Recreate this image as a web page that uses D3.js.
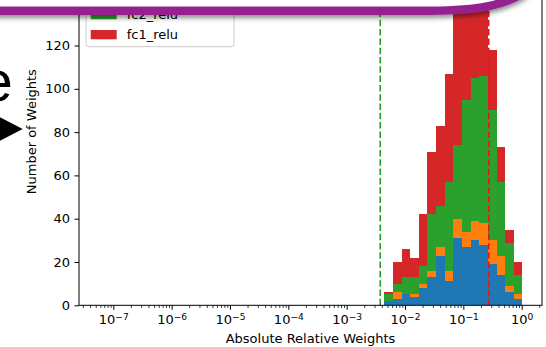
<!DOCTYPE html>
<html>
<head>
<meta charset="utf-8">
<script src="https://cdn.jsdelivr.net/npm/d3@7"></script>
<style>
  html, body { margin: 0; padding: 0; background: #fff; }
  svg { display: block; }
</style>
</head>
<body>
<svg id="chart" width="546" height="347"></svg>
<script>
// ---- data -------------------------------------------------------------
// Histogram bins: 16 log-spaced bins between these log10 bounds
const binLogMin = -2.355;
const binLogMax = 0.012;
const binCount = 16;

// Stacked counts per bin, bottom layer first
const layer4Counts = [2, 3, 5, 4, 8, 13, 23, 11, 31, 27, 30, 28, 19, 14, 6, 3];
const layer3Counts = [0, 3, 0, 1, 2, 3, 4, 5, 9, 7, 9, 10, 11, 9, 3, 2];
const fc2Counts    = [3, 4, 8, 8, 8, 26, 19, 41, 34, 61, 66, 68, 60, 34, 20, 9];
const fc1Counts    = [1, 10, 13, 9, 24, 29, 37, 50, 76, 73, 67, 49, 28, 16, 6, 6];

const seriesCounts = [layer4Counts, layer3Counts, fc2Counts, fc1Counts];
const seriesColors = ["#1f77b4", "#ff7f0e", "#2ca02c", "#d62728"];

// Legend rows that sit below the banner
const legendLabels = ["fc2_relu", "fc1_relu"];
const legendColors = ["#2ca02c", "#d62728"];

// Threshold markers
const lowThreshold = 0.00376;
const highThreshold = 0.272;

// Axis ticks
const xMajorExponents = [-7, -6, -5, -4, -3, -2, -1, 0];
const yTicks = [0, 20, 40, 60, 80, 100, 120];
const xLabel = "Absolute Relative Weights";
const yLabel = "Number of Weights";

// ---- layout -----------------------------------------------------------
const FONT = "DejaVu Sans, Verdana, sans-serif";
const plot = { left: 79, right: 542, bottom: 305.3, top: -42 };

const svg = d3.select("#chart");

const x = d3.scaleLog()
  .domain([Math.pow(10, -7.588), Math.pow(10, 0.348)])
  .range([plot.left, plot.right]);

const y = d3.scaleLinear()
  .domain([0, 120])
  .range([plot.bottom, 45.5]);

// bin edges
const edges = d3.range(binCount + 1).map(i =>
  Math.pow(10, binLogMin + (binLogMax - binLogMin) * i / binCount));

// stacked layout
const rows = d3.range(binCount).map(i => {
  const r = { x0: edges[i], x1: edges[i + 1] };
  seriesCounts.forEach((s, k) => { r["s" + k] = s[i]; });
  return r;
});
const stack = d3.stack().keys(seriesCounts.map((_, k) => "s" + k));
const layers = stack(rows);

// ---- bars -------------------------------------------------------------
const barG = svg.append("g");
layers.forEach((layer, k) => {
  barG.append("g")
    .attr("fill", seriesColors[k])
    .selectAll("rect")
    .data(layer)
    .join("rect")
    .attr("shape-rendering", "crispEdges")
    .attr("x", d => x(d.data.x0))
    .attr("width", d => x(d.data.x1) - x(d.data.x0))
    .attr("y", d => y(d[1]))
    .attr("height", d => y(d[0]) - y(d[1]));
});

// ---- threshold lines ---------------------------------------------------
svg.append("line")
  .attr("x1", x(lowThreshold)).attr("x2", x(lowThreshold))
  .attr("y1", plot.bottom).attr("y2", plot.top)
  .attr("stroke", "#1f9a1f").attr("stroke-width", 1.5)
  .attr("stroke-dasharray", "6.5,2.8");

svg.append("line")
  .attr("x1", x(highThreshold)).attr("x2", x(highThreshold))
  .attr("y1", plot.bottom).attr("y2", plot.top)
  .attr("stroke", "#e8141c").attr("stroke-width", 1.5)
  .attr("stroke-dasharray", "6.5,2.8");

// ---- axes -------------------------------------------------------------
const minorTicks = [];
for (let e = -8; e <= 0; e++) {
  for (let m = 2; m <= 9; m++) {
    const v = m * Math.pow(10, e);
    if (v > x.domain()[0] && v < x.domain()[1]) minorTicks.push(v);
  }
}

const gxMinor = svg.append("g")
  .attr("transform", `translate(0,${plot.bottom})`)
  .call(d3.axisBottom(x).tickValues(minorTicks).tickSize(2.6).tickFormat(""));
gxMinor.select(".domain").remove();
gxMinor.selectAll("line").attr("stroke", "#000").attr("stroke-width", 0.8);

const gx = svg.append("g")
  .attr("transform", `translate(0,${plot.bottom})`)
  .call(d3.axisBottom(x)
    .tickValues(xMajorExponents.map(e => Math.pow(10, e)))
    .tickSize(4.5).tickPadding(4.5)
    .tickFormat(""));
gx.select(".domain").remove();
gx.selectAll("line").attr("stroke", "#000").attr("stroke-width", 1);
gx.selectAll(".tick text").each(function (d, i) {
  const t = d3.select(this)
    .attr("fill", "#000")
    .attr("font-family", FONT)
    .attr("font-size", "13px");
  t.text(null);
  t.append("tspan").text("10");
  const e = xMajorExponents[i];
  t.append("tspan")
    .attr("dy", "-0.4em")
    .attr("font-size", "9.1px")
    .text(e < 0 ? "\u2212" + Math.abs(e) : String(e));
});

const gy = svg.append("g")
  .attr("transform", `translate(${plot.left},0)`)
  .call(d3.axisLeft(y).tickValues(yTicks).tickSize(4.5).tickPadding(4.5));
gy.select(".domain").remove();
gy.selectAll("line").attr("stroke", "#000").attr("stroke-width", 1);
gy.selectAll("text")
  .attr("fill", "#000")
  .attr("font-family", FONT)
  .attr("font-size", "13px");

// spines
svg.append("rect")
  .attr("x", plot.left).attr("y", plot.top)
  .attr("width", plot.right - plot.left)
  .attr("height", plot.bottom - plot.top)
  .attr("fill", "none")
  .attr("stroke", "#000").attr("stroke-width", 1);

// axis titles
svg.append("text")
  .attr("x", (plot.left + plot.right) / 2)
  .attr("y", 343)
  .attr("text-anchor", "middle")
  .attr("font-family", FONT).attr("font-size", "13px")
  .attr("fill", "#000")
  .text(xLabel);

svg.append("text")
  .attr("transform", `translate(36,${(plot.bottom + plot.top) / 2}) rotate(-90)`)
  .attr("text-anchor", "middle")
  .attr("font-family", FONT).attr("font-size", "13px")
  .attr("fill", "#000")
  .text(yLabel);

// ---- legend -----------------------------------------------------------
const legend = svg.append("g");
legend.append("rect")
  .attr("x", 86).attr("y", -60)
  .attr("width", 148).attr("height", 106.7)
  .attr("rx", 2.5)
  .attr("fill", "#fff").attr("fill-opacity", 0.8)
  .attr("stroke", "#cccccc").attr("stroke-width", 1);

legendLabels.forEach((lab, i) => {
  const yTop = 30 - (legendLabels.length - 1 - i) * 20;
  legend.append("rect")
    .attr("x", 90.7).attr("y", yTop)
    .attr("width", 26).attr("height", 9.3)
    .attr("fill", legendColors[i]);
  legend.append("text")
    .attr("x", 126.7).attr("y", yTop + 8.8)
    .attr("font-family", FONT).attr("font-size", "13px")
    .attr("fill", "#000")
    .text(lab);
});

// ---- slide overlay: banner, letter and arrow ---------------------------
const defs = svg.append("defs");
const shade = defs.append("filter")
  .attr("id", "shade")
  .attr("x", "-5%").attr("y", "-100%")
  .attr("width", "110%").attr("height", "400%");
shade.append("feDropShadow")
  .attr("dx", 0).attr("dy", 3)
  .attr("stdDeviation", 2.5)
  .attr("flood-color", "#000")
  .attr("flood-opacity", 0.45);

const banner = svg.append("g").attr("filter", "url(#shade)");
const bandPath = "M -20 10.8 L 420 10.8 C 470 10.8, 500 8, 525 -8";
banner.append("path")
  .attr("d", bandPath + " L 525 -30 L -20 -30 Z")
  .attr("fill", "#fff");
banner.append("path")
  .attr("d", bandPath)
  .attr("fill", "none")
  .attr("stroke", "#93248f")
  .attr("stroke-width", 8.4);

svg.append("text")
  .attr("x", 12.8).attr("y", 101)
  .attr("text-anchor", "end")
  .attr("font-family", "Liberation Sans, Arial, sans-serif")
  .attr("font-size", "58px")
  .attr("fill", "#000")
  .text("e");

svg.append("path")
  .attr("d", "M 22.7 129 L -10 112 L -10 146 Z")
  .attr("fill", "#000");
</script>
</body>
</html>
